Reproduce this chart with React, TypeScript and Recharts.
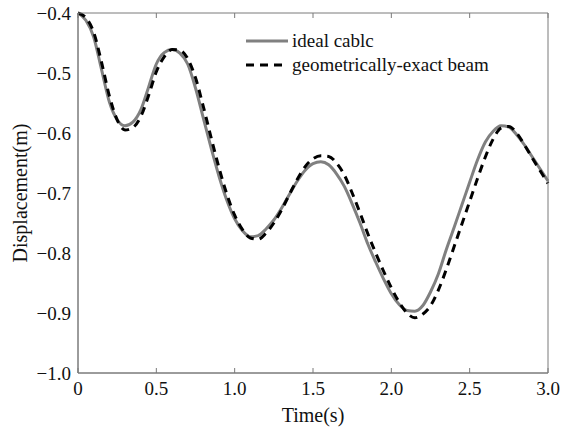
import { LineChart, Line, XAxis, YAxis } from 'recharts';

const times = [
  0, 0.05, 0.1, 0.15, 0.2, 0.25, 0.3, 0.35, 0.4, 0.45, 0.5, 0.55, 0.6, 0.65, 0.7, 0.75, 0.8, 0.85, 0.9, 0.95,
  1.0, 1.05, 1.1, 1.15, 1.2, 1.25, 1.3, 1.35, 1.4, 1.45, 1.5, 1.55, 1.6, 1.65, 1.7, 1.75, 1.8, 1.85, 1.9, 1.95,
  2.0, 2.05, 2.1, 2.15, 2.2, 2.25, 2.3, 2.35, 2.4, 2.45, 2.5, 2.55, 2.6, 2.65, 2.7, 2.75, 2.8, 2.85, 2.9, 2.95, 3.0,
];

const idealCable = [
  -0.4, -0.412, -0.44, -0.494, -0.548, -0.578, -0.588, -0.582, -0.562, -0.524, -0.485, -0.466, -0.461, -0.467, -0.485, -0.525, -0.575, -0.625, -0.672, -0.712,
  -0.743, -0.763, -0.773, -0.771, -0.76, -0.745, -0.725, -0.702, -0.68, -0.662, -0.651, -0.648, -0.653, -0.668, -0.689, -0.718, -0.75, -0.785, -0.815, -0.843,
  -0.868, -0.886, -0.896, -0.897, -0.888, -0.865, -0.835, -0.795, -0.758, -0.72, -0.682, -0.645, -0.615, -0.597, -0.588, -0.59, -0.603, -0.62, -0.64, -0.66, -0.68,
];

const exactBeam = [
  -0.4, -0.408, -0.432, -0.482, -0.538, -0.578, -0.595, -0.591, -0.573, -0.538, -0.498, -0.473, -0.461, -0.462, -0.476, -0.508, -0.556, -0.608, -0.658, -0.702,
  -0.737, -0.761, -0.775, -0.777, -0.767, -0.75, -0.728, -0.702, -0.677, -0.656, -0.643, -0.638, -0.639, -0.65, -0.67, -0.7, -0.733, -0.768, -0.8, -0.83,
  -0.858, -0.882, -0.9, -0.908, -0.902, -0.888, -0.862, -0.828, -0.79, -0.752, -0.714, -0.676, -0.64, -0.61, -0.592, -0.589, -0.6, -0.62, -0.642, -0.663, -0.684,
];

const xTicks = [0, 0.5, 1.0, 1.5, 2.0, 2.5, 3.0];
const yTicks = [-1.0, -0.9, -0.8, -0.7, -0.6, -0.5, -0.4];

const data = times.map((t, i) => ({ t, ideal: idealCable[i], beam: exactBeam[i] }));

const FONT = '"Liberation Serif", "DejaVu Serif", serif';
const AXIS = '#7a7a7a';
const tickStyle = { fontSize: 19, fontFamily: FONT, fill: '#111' };

const fmtX = (v: number) => (v === 0 ? '0' : v.toFixed(1));
const fmtY = (v: number) => '\u2212' + Math.abs(v).toFixed(1);
const blank = () => '';

function LegendBox() {
  return (
    <div style={{ position: 'absolute', left: 245, top: 29, fontFamily: FONT, fontSize: 19, color: '#111', lineHeight: '24px' }}>
      <div style={{ display: 'flex', alignItems: 'center' }}>
        <svg width={44} height={24}><line x1={1} y1={12} x2={43} y2={12} stroke="#808080" strokeWidth={3} /></svg>
        <span style={{ marginLeft: 3 }}>ideal cablc</span>
      </div>
      <div style={{ display: 'flex', alignItems: 'center' }}>
        <svg width={44} height={24}><line x1={1} y1={12} x2={43} y2={12} stroke="#000" strokeWidth={3} strokeDasharray="8 6" /></svg>
        <span style={{ marginLeft: 3 }}>geometrically-exact beam</span>
      </div>
    </div>
  );
}

export default function App() {
  return (
    <div style={{ position: 'absolute', left: 0, top: 0, width: 563, height: 430, background: '#fff' }}>
      <LineChart width={563} height={430} data={data} margin={{ top: 13, right: 15, bottom: 0, left: 8 }}>
        {/* labelled axes, no tick lines */}
        <XAxis
          dataKey="t" type="number" domain={[0, 3]} ticks={xTicks} tickFormatter={fmtX}
          stroke={AXIS} tickLine={false} tickSize={0} tickMargin={9} tick={tickStyle} height={57} interval={0}
          label={{ value: 'Time(s)', position: 'insideBottom', offset: 8, style: { fontSize: 20, fontFamily: FONT, fill: '#111' } }}
        />
        <YAxis
          type="number" domain={[-1, -0.4]} ticks={yTicks} tickFormatter={fmtY}
          stroke={AXIS} tickLine={false} tickSize={0} tickMargin={7} tick={tickStyle} width={70} interval={0}
          label={{ value: 'Displacement(m)', angle: -90, position: 'insideLeft', offset: 12, style: { fontSize: 20, fontFamily: FONT, fill: '#111', textAnchor: 'middle' } }}
        />
        {/* mirrored axes: inward ticks on all four sides */}
        <XAxis
          xAxisId="bin" orientation="bottom" mirror dataKey="t" type="number" domain={[0, 3]} ticks={xTicks}
          stroke={AXIS} tickSize={5} tickFormatter={blank} interval={0}
        />
        <XAxis
          xAxisId="top" orientation="top" mirror dataKey="t" type="number" domain={[0, 3]} ticks={xTicks}
          stroke={AXIS} tickSize={5} tickFormatter={blank} interval={0}
        />
        <YAxis
          yAxisId="lin" orientation="left" mirror type="number" domain={[-1, -0.4]} ticks={yTicks}
          stroke={AXIS} tickSize={5} tickFormatter={blank} interval={0}
        />
        <YAxis
          yAxisId="right" orientation="right" mirror type="number" domain={[-1, -0.4]} ticks={yTicks}
          stroke={AXIS} tickSize={5} tickFormatter={blank} interval={0}
        />
        <Line dataKey="ideal" type="monotone" stroke="#808080" strokeWidth={3} dot={false} isAnimationActive={false} />
        <Line dataKey="beam" type="monotone" stroke="#000" strokeWidth={3} strokeDasharray="8 6" dot={false} isAnimationActive={false} />
      </LineChart>
      <LegendBox />
    </div>
  );
}
